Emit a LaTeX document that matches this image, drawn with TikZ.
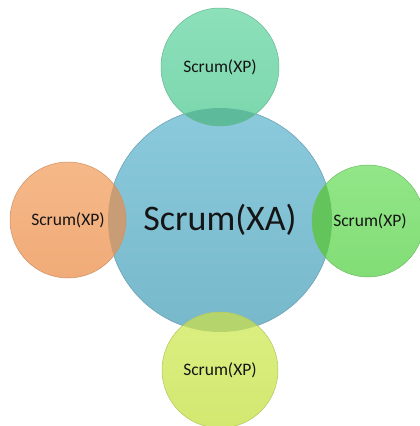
\documentclass[tikz,border=0pt]{standalone}
\usepackage{fontspec}
\setmainfont{Carlito}
\definecolor{hubtop}{HTML}{8ACADC}
\definecolor{hubbot}{HTML}{78B8CB}
\definecolor{mintA}{HTML}{8CE0BA}
\definecolor{mintB}{HTML}{7CD7AD}
\definecolor{mintO}{HTML}{5DBB9B}
\definecolor{peachA}{HTML}{F6B888}
\definecolor{peachB}{HTML}{F0AB78}
\definecolor{peachO}{HTML}{C89D76}
\definecolor{limeA}{HTML}{92E688}
\definecolor{limeB}{HTML}{82DD76}
\definecolor{limeO}{HTML}{64C45C}
\definecolor{yelA}{HTML}{DCEF82}
\definecolor{yelB}{HTML}{D2E870}
\definecolor{yelO}{HTML}{B5D46C}
\definecolor{inktext}{HTML}{151515}
\begin{document}
\begin{tikzpicture}[x=1pt,y=-1pt,
  hub/.style={circle, inner sep=0pt, minimum size=224pt,
    top color=hubtop, bottom color=hubbot, draw=hubbot!85!black, line width=0.5pt,
    text=inktext, font=\fontsize{36}{40}\selectfont},
  sat/.style={circle, inner sep=0pt, line width=0.5pt,
    text=inktext, font=\fontsize{17.5}{20}\selectfont},
  overlap/.style={path picture={\fill[#1] (xa.center) circle (112pt);}},
]
\useasboundingbox (0,0) rectangle (420,426);
% central circle
\node[hub] (xa) at (220,220) {Scrum(XA)};
% satellites; the part inside the central circle is filled darker
\node[sat, minimum size=118pt, top color=mintA, bottom color=mintB,
  draw=mintB!85!black, overlap=mintO] (north) at (220,67) {Scrum(XP)};
\node[sat, minimum size=116pt, top color=peachA, bottom color=peachB,
  draw=peachB!85!black, overlap=peachO] (west) at (68,220) {Scrum(XP)};
\node[sat, minimum size=112pt, top color=limeA, bottom color=limeB,
  draw=limeB!85!black, overlap=limeO] (east) at (368,221) {\hspace*{4pt}Scrum(XP)};
\node[sat, minimum size=116pt, top color=yelA, bottom color=yelB,
  draw=yelB!85!black, overlap=yelO] (south) at (220,370) {Scrum(XP)};
\end{tikzpicture}
\end{document}
